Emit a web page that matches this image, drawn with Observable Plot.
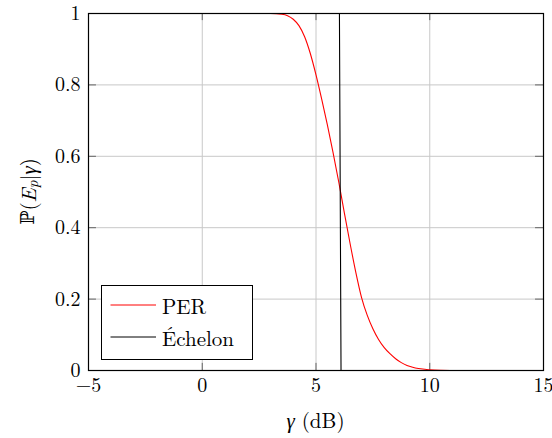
<!DOCTYPE html>
<html>
<head>
<meta charset="utf-8">
<script src="https://cdn.jsdelivr.net/npm/d3@7"></script>
<script src="https://cdn.jsdelivr.net/npm/@observablehq/plot@0.6"></script>
<style>
  body { margin: 0; background: #fff; }
  #chart { position: relative; width: 552px; height: 438px; }
</style>
</head>
<body>
<div id="chart"></div>
<script>
// PER curve
const gamma = [-5, 3.0, 3.5, 3.75, 4.0, 4.25, 4.5, 4.75, 5.0, 5.25, 5.5, 5.75, 6.0, 6.25, 6.5, 6.75, 7.0, 7.25, 7.5, 7.75, 8.0, 8.25, 8.5, 8.75, 9.0, 9.25, 9.5, 10.0, 10.5, 10.9];
const per   = [1, 1, 0.998, 0.994, 0.984, 0.966, 0.935, 0.888, 0.828, 0.76, 0.688, 0.61, 0.528, 0.44, 0.355, 0.275, 0.205, 0.155, 0.117, 0.087, 0.064, 0.047, 0.033, 0.022, 0.014, 0.009, 0.0055, 0.002, 0.0005, 0];
// Step (Échelon)
const stepX = [-5, 6.03, 6.1, 15];
const stepY = [1, 1, 0, 0];
// Ticks
const xTicks = [-5, 0, 5, 10, 15];
const yTicks = [0, 0.2, 0.4, 0.6, 0.8, 1];
const seriesNames = ["PER", "Échelon"];
const seriesColors = ["#ff0000", "#000000"];

const perData = gamma.map((g, i) => ({x: g, y: per[i]}));
const stepData = stepX.map((g, i) => ({x: g, y: stepY[i]}));

const FONT = "Latin Modern Roman";
const fmtX = d => d < 0 ? "\u2212" + (-d) : String(d);
const fmtY = d => String(d);

const plot = Plot.plot({
  width: 552,
  height: 438,
  marginLeft: 88,
  marginRight: 9,
  marginTop: 13,
  marginBottom: 68,
  style: {fontSize: "20px", color: "#000", background: "#fff", overflow: "visible"},
  x: {domain: [-5, 15], label: null},
  y: {domain: [0, 1], label: null},
  marks: [
    Plot.gridX(xTicks, {stroke: "#c8c8c8", strokeOpacity: 1, strokeWidth: 1}),
    Plot.gridY(yTicks, {stroke: "#c8c8c8", strokeOpacity: 1, strokeWidth: 1}),
    // inner tick marks
    Plot.ruleX(xTicks, {y1: 0, y2: 0.02, stroke: "#666", strokeWidth: 1}),
    Plot.ruleX(xTicks, {y1: 0.98, y2: 1, stroke: "#666", strokeWidth: 1}),
    Plot.ruleY(yTicks, {x1: -5, x2: -4.65, stroke: "#666", strokeWidth: 1}),
    Plot.ruleY(yTicks, {x1: 14.65, x2: 15, stroke: "#666", strokeWidth: 1}),
    Plot.axisX(xTicks, {tickSize: 0, tickPadding: 7, tickFormat: fmtX, label: null, fontSize: 20}),
    Plot.axisY(yTicks, {tickSize: 0, tickPadding: 8, tickFormat: fmtY, label: null, fontSize: 20}),
    Plot.line(perData, {x: "x", y: "y", stroke: seriesColors[0], strokeWidth: 1.1, curve: "monotone-x"}),
    Plot.line(stepData, {x: "x", y: "y", stroke: seriesColors[1], strokeWidth: 1.1}),
    Plot.frame({stroke: "#000", strokeWidth: 1.2})
  ]
});

document.getElementById("chart").appendChild(plot);

const svg = d3.select(plot);

// Y axis label
const yl = svg.append("text")
  .attr("transform", "translate(27,191.5) rotate(-90)")
  .attr("text-anchor", "middle")
  .attr("dominant-baseline", "central")
  .attr("font-size", 21)
  .attr("fill", "#000");
yl.append("tspan").attr("class", "bb").text("\u2119");
yl.append("tspan").text("(");
yl.append("tspan").attr("font-style", "italic").text("E");
yl.append("tspan").attr("font-style", "italic").attr("font-size", 15).attr("dy", 4).text("p");
yl.append("tspan").attr("dy", -4).text("|");
yl.append("tspan").attr("font-style", "italic").text("\u03b3");
yl.append("tspan").text(")");

// X axis label
const xl = svg.append("text")
  .attr("x", 315.5)
  .attr("y", 428)
  .attr("text-anchor", "middle")
  .attr("font-size", 21)
  .attr("fill", "#000");
xl.append("tspan").attr("font-style", "italic").text("\u03b3");
xl.append("tspan").text(" (dB)");

// Legend
const lg = svg.append("g").attr("font-size", 21);
lg.append("rect")
  .attr("x", 101.5).attr("y", 285.5).attr("width", 151).attr("height", 74)
  .attr("fill", "#fff").attr("stroke", "#000").attr("stroke-width", 1);
seriesNames.forEach((name, i) => {
  const yy = 305 + i * 32;
  lg.append("line")
    .attr("x1", 110.5).attr("x2", 156).attr("y1", yy).attr("y2", yy)
    .attr("stroke", seriesColors[i]).attr("stroke-width", 1);
  lg.append("text")
    .attr("x", 162).attr("y", yy)
    .attr("dominant-baseline", "central")
    .attr("text-anchor", "start")
    .attr("fill", "#000")
    .text(name);
});

// Force fonts with inline styles
svg.selectAll("text, tspan").style("font-family", FONT);
svg.selectAll("tspan.bb").style("font-family", "DejaVu Serif").attr("font-size", 19);
</script>
</body>
</html>
